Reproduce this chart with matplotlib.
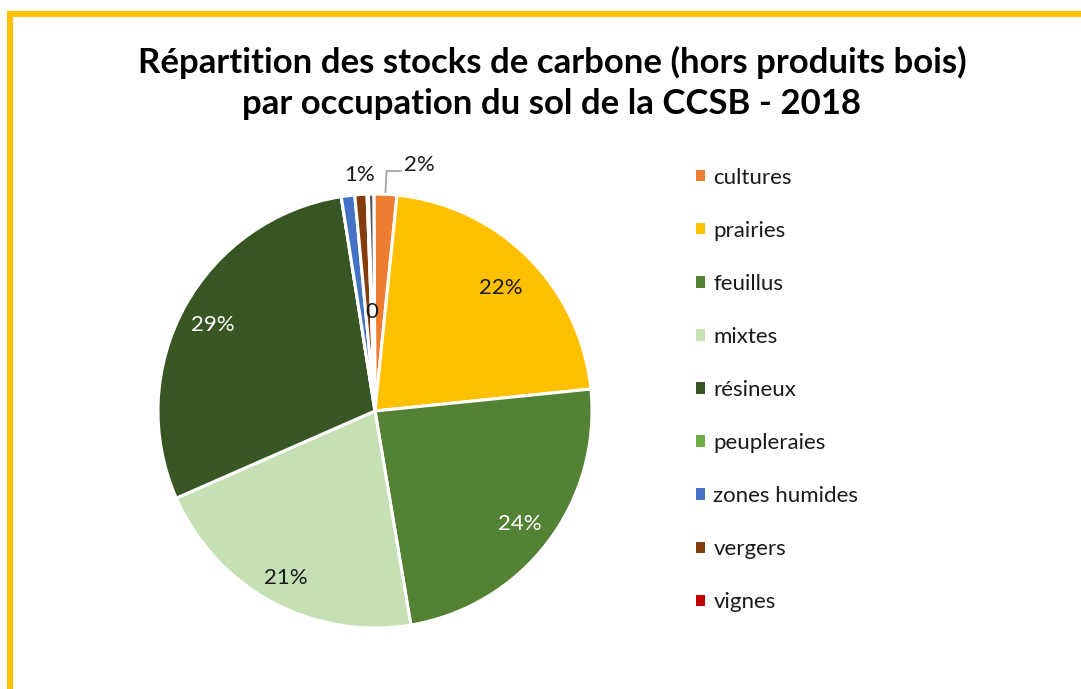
import numpy as np
import matplotlib
matplotlib.use("Agg")
import matplotlib.pyplot as plt
from matplotlib.patches import Patch
from matplotlib.lines import Line2D

plt.rcParams['font.family'] = ['Lato', 'DejaVu Sans']

# Données (part du stock de carbone, en %)
categories = ["cultures", "prairies", "feuillus", "mixtes", "résineux",
              "peupleraies", "zones humides", "vergers", "vignes", "autres"]
valeurs = [1.7, 21.7, 23.9, 21.0, 29.0, 0.0, 1.0, 0.9, 0.1, 0.4]
etiquettes = ["2%", "22%", "24%", "21%", "29%", "", "", "1%", "0", ""]
couleurs = ["#ED7D31", "#FFC000", "#548235", "#C5E0B4", "#375623",
            "#70AD47", "#4472C4", "#843C0C", "#C00000", "#595959"]
n_legende = 9  # "autres" n'apparait pas dans la légende

W, H = 1081, 689
fig = plt.figure(figsize=(W / 100, H / 100), dpi=100)

# cadre jaune (haut et gauche)
fig.add_artist(Line2D([9.5 / W, 9.5 / W], [0, 1 - 14 / H], color="#FFC000", lw=4.3,
                      solid_capstyle="butt"))
fig.add_artist(Line2D([7 / W, 1], [1 - 14 / H, 1 - 14 / H], color="#FFC000", lw=4.3,
                      solid_capstyle="butt"))

fig.text(552 / W, 1 - 83 / H,
         "Répartition des stocks de carbone (hors produits bois)\npar occupation du sol de la CCSB - 2018",
         ha="center", va="center", fontsize=25, fontweight="bold", linespacing=1.34, color="black")

# camembert : centre (375, 411) px, rayon 217 px
cx, cy, r = 375, 411, 217
half = 1.25 * r
ax = fig.add_axes([(cx - half) / W, (H - cy - half) / H, 2 * half / W, 2 * half / H])
wedges, _ = ax.pie(valeurs, colors=couleurs, startangle=90.3, counterclock=False,
                   wedgeprops=dict(edgecolor="white", linewidth=2.2))
ax.set_xlim(-1.25, 1.25)
ax.set_ylim(-1.25, 1.25)
ax.set_aspect("equal")
ax.axis("off")

sombre = "#1a1a1a"
fs = 16
couleur_txt = {"24%": "white", "29%": "white"}
rayon_txt = {"22%": 0.82, "24%": 0.84, "21%": 0.86, "29%": 0.85, "1%": 1.1, "0": 0.47}
for w, lab in zip(wedges, etiquettes):
    if not lab:
        continue
    a = np.deg2rad((w.theta1 + w.theta2) / 2)
    if lab == "2%":
        x0, y0 = np.cos(a), np.sin(a)
        ax.plot([x0, x0 + 0.005, 0.12], [y0 + 0.01, 1.106, 1.106], color="#a6a6a6", lw=1.3)
        ax.text(0.134, 1.135, lab, ha="left", va="center", fontsize=fs, color=sombre)
        continue
    rr = rayon_txt[lab]
    ax.text(rr * np.cos(a), rr * np.sin(a) - 0.012, lab, ha="center", va="center",
            fontsize=fs, color=couleur_txt.get(lab, sombre))

handles = [Patch(facecolor=c, edgecolor="none") for c in couleurs[:n_legende]]
fig.legend(handles, categories[:n_legende], loc="upper left",
           bbox_to_anchor=(696 / W, 1 - 167.5 / H), frameon=False, fontsize=fs,
           handlelength=0.42, handleheight=0.42, handletextpad=0.36,
           labelspacing=1.49, borderpad=0, borderaxespad=0, labelcolor=sombre)

fig.savefig("out.png", dpi=100)
